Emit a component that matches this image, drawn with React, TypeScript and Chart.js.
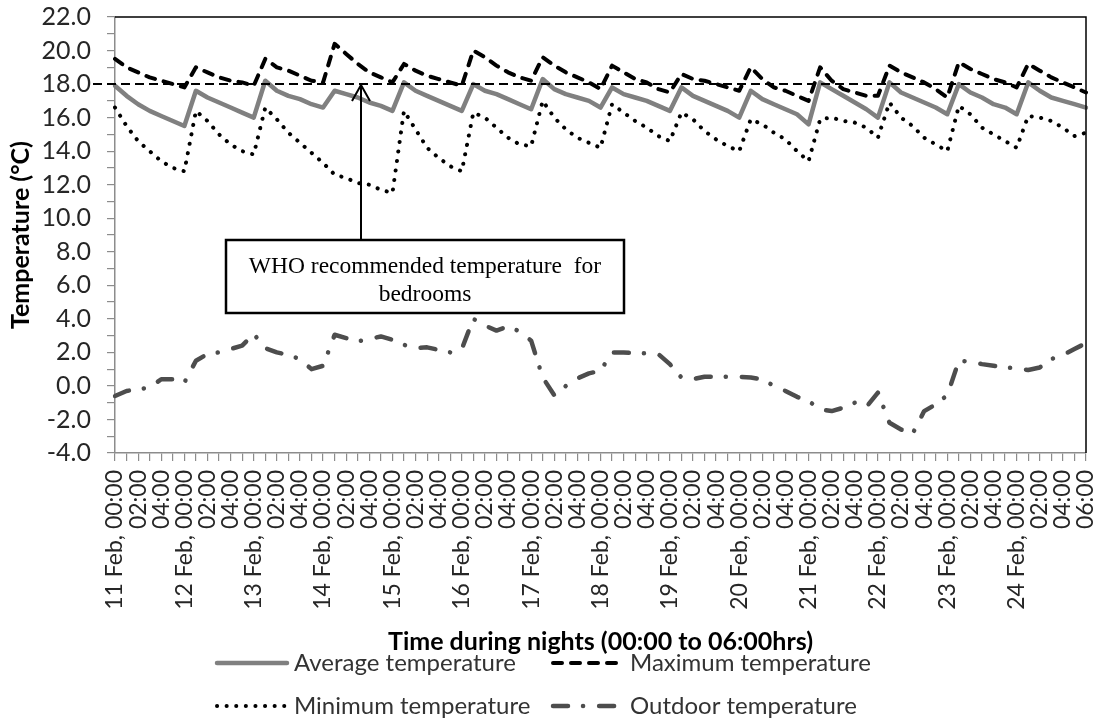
import React, { useEffect, useRef } from 'react';
import { Chart, registerables } from 'chart.js';

Chart.register(...registerables);

// ---------- data ----------
const NIGHTS = ['11 Feb', '12 Feb', '13 Feb', '14 Feb', '15 Feb', '16 Feb', '17 Feb', '18 Feb', '19 Feb', '20 Feb', '21 Feb', '22 Feb', '23 Feb', '24 Feb'];
const HOURS = ['00:00', '01:00', '02:00', '03:00', '04:00', '05:00'];
const END_LABEL = '06:00';

const AVERAGE = [
  17.9, 17.3, 16.8, 16.4, 16.1, 15.8,
  15.5, 17.6, 17.2, 16.9, 16.6, 16.3,
  16.0, 18.2, 17.6, 17.3, 17.1, 16.8,
  16.6, 17.6, 17.4, 17.2, 16.9, 16.7,
  16.4, 18.1, 17.6, 17.3, 17.0, 16.7,
  16.4, 18.0, 17.6, 17.4, 17.1, 16.8,
  16.5, 18.3, 17.7, 17.4, 17.2, 17.0,
  16.6, 17.8, 17.4, 17.2, 17.0, 16.7,
  16.4, 17.8, 17.3, 17.0, 16.7, 16.4,
  16.0, 17.6, 17.1, 16.8, 16.5, 16.2,
  15.6, 18.1, 17.7, 17.3, 16.9, 16.5,
  16.0, 18.1, 17.5, 17.2, 16.9, 16.6,
  16.2, 18.0, 17.5, 17.2, 16.8, 16.6,
  16.2, 18.1, 17.6, 17.2, 17.0, 16.8,
  16.6,
];

const MAXIMUM = [
  19.5, 19.0, 18.7, 18.4, 18.2, 18.0,
  17.8, 19.0, 18.7, 18.4, 18.2, 18.1,
  17.9, 19.5, 19.0, 18.8, 18.5, 18.2,
  18.1, 20.4, 19.8, 19.2, 18.7, 18.4,
  18.1, 19.2, 18.8, 18.5, 18.3, 18.1,
  17.9, 20.0, 19.6, 19.1, 18.7, 18.4,
  18.2, 19.6, 19.1, 18.7, 18.4, 18.1,
  17.7, 19.1, 18.7, 18.3, 18.1, 17.7,
  17.5, 18.6, 18.3, 18.2, 18.0, 17.8,
  17.6, 19.0, 18.3, 17.8, 17.6, 17.3,
  17.0, 19.0, 18.2, 17.7, 17.5, 17.3,
  17.3, 19.1, 18.7, 18.4, 18.1, 17.7,
  17.2, 19.3, 18.9, 18.6, 18.3, 18.1,
  17.8, 19.2, 18.8, 18.4, 18.1, 17.8,
  17.5,
];

const MINIMUM = [
  16.6, 15.5, 14.6, 14.0, 13.4, 13.0,
  12.8, 16.4, 15.8, 15.0, 14.4, 14.0,
  13.8, 16.6, 15.9, 15.1, 14.5, 13.9,
  13.3, 12.6, 12.4, 12.1, 12.0, 11.7,
  11.5, 16.4, 15.3, 14.2, 13.6, 13.1,
  12.8, 16.3, 16.0, 15.4, 14.8, 14.4,
  14.3, 17.0, 16.0, 15.3, 14.8, 14.5,
  14.2, 16.8, 16.3, 15.8, 15.4, 14.9,
  14.6, 16.3, 15.9, 15.2, 14.7, 14.3,
  14.0, 15.9, 15.6, 15.1, 14.7, 14.0,
  13.4, 15.9, 16.0, 15.8, 15.7, 15.4,
  14.8, 16.9, 16.0, 15.5, 14.8, 14.4,
  14.0, 16.7, 16.2, 15.4, 15.0, 14.6,
  14.2, 16.1, 16.0, 15.8, 15.4, 14.9,
  15.1,
];

const OUTDOOR = [
  -0.6, -0.3, -0.2, -0.1, 0.4, 0.4,
  0.2, 1.5, 1.9, 2.0, 2.2, 2.4,
  3.1, 2.25, 2.0, 1.85, 1.6, 1.0,
  1.2, 3.05, 2.85, 2.65, 2.8, 2.95,
  2.75, 2.45, 2.25, 2.3, 2.15, 2.0,
  2.2, 4.0, 3.6, 3.3, 3.55, 3.25,
  2.7, 0.5, -0.55, 0.0, 0.45, 0.75,
  0.9, 2.0, 2.0, 1.95, 1.95, 1.9,
  1.3, 0.5, 0.4, 0.55, 0.55, 0.55,
  0.55, 0.5, 0.4, 0.0, -0.3, -0.65,
  -0.9, -1.4, -1.5, -1.3, -1.0, -1.25,
  -0.4, -2.2, -2.6, -2.85, -1.5, -1.1,
  -0.55, 1.5, 1.45, 1.3, 1.2, 1.1,
  1.05, 0.95, 1.1, 1.6, 1.85, 2.2,
  2.55,
];

const WHO_LEVEL = 18;
const WHO_TEXT = ['WHO recommended temperature  for', 'bedrooms'];
const SERIES_NAMES = ['Average temperature', 'Maximum temperature', 'Minimum temperature', 'Outdoor temperature'];
const Y_MIN = -4;
const Y_MAX = 22;

const CATEGORIES: string[] = [
  ...NIGHTS.flatMap((n) => HOURS.map((h) => (h === '00:00' ? `${n}, ${h}` : h))),
  END_LABEL,
];

// ---------- style ----------
const FONT = 'Lato, "Open Sans", sans-serif';
const TEXT_COLOR = '#262626';
const AXIS_GRAY = '#8c8c8c';

const frameAndAnnotation = {
  id: 'frameAndAnnotation',
  afterDatasetsDraw(chart: any) {
    const { ctx, chartArea, scales } = chart;
    const { left, top, right, bottom } = chartArea;
    ctx.save();
    // top & right border of plot area
    ctx.strokeStyle = '#000';
    ctx.lineWidth = 1.5;
    ctx.beginPath();
    ctx.moveTo(left, top);
    ctx.lineTo(right, top);
    ctx.lineTo(right, bottom);
    ctx.stroke();

    // WHO recommended line
    const yWho = scales.y.getPixelForValue(WHO_LEVEL);
    ctx.lineWidth = 2;
    ctx.setLineDash([9, 5]);
    ctx.beginPath();
    ctx.moveTo(left - 22, yWho);
    ctx.lineTo(right, yWho);
    ctx.stroke();
    ctx.setLineDash([]);

    // annotation box
    const bx = left + 111;
    const by = top + 223;
    const bw = 398;
    const bh = 73;
    const ax = left + 246;

    // arrow
    ctx.lineWidth = 2;
    ctx.beginPath();
    ctx.moveTo(ax, by);
    ctx.lineTo(ax, yWho + 1);
    ctx.stroke();
    ctx.beginPath();
    ctx.moveTo(ax - 9, yWho + 17);
    ctx.lineTo(ax, yWho + 1);
    ctx.lineTo(ax + 9, yWho + 17);
    ctx.stroke();

    ctx.fillStyle = '#fff';
    ctx.fillRect(bx, by, bw, bh);
    ctx.strokeStyle = '#000';
    ctx.lineWidth = 2.5;
    ctx.strokeRect(bx, by, bw, bh);

    ctx.fillStyle = '#000';
    ctx.font = '23.5px "Liberation Serif", "Times New Roman", serif';
    ctx.textAlign = 'center';
    ctx.textBaseline = 'alphabetic';
    ctx.fillText(WHO_TEXT[0], bx + bw / 2, by + 33);
    ctx.fillText(WHO_TEXT[1], bx + bw / 2, by + 61);
    ctx.restore();
  },
};

const LEGEND_COL_X = [217, 553];
const LEGEND_ROW_Y = [663, 706];
const SAMPLE_LEN = 70;

const gridLegend = {
  id: 'gridLegend',
  afterDraw(chart: any) {
    const { ctx } = chart;
    chart.data.datasets.forEach((ds: any, i: number) => {
      const x0 = LEGEND_COL_X[i % 2];
      const y = LEGEND_ROW_Y[Math.floor(i / 2)];
      ctx.save();
      ctx.strokeStyle = ds.borderColor;
      ctx.lineWidth = ds.borderWidth;
      ctx.lineCap = ds.borderCapStyle || 'butt';
      ctx.setLineDash(ds.borderDash || []);
      ctx.beginPath();
      ctx.moveTo(x0, y);
      ctx.lineTo(x0 + SAMPLE_LEN, y);
      ctx.stroke();
      ctx.setLineDash([]);
      ctx.fillStyle = '#333';
      ctx.font = `24px ${FONT}`;
      ctx.textAlign = 'left';
      ctx.textBaseline = 'middle';
      ctx.fillText(ds.label, x0 + SAMPLE_LEN + 7, y);
      ctx.restore();
    });
  },
};

export default function App() {
  const canvasRef = useRef<HTMLCanvasElement | null>(null);

  useEffect(() => {
    document.body.style.margin = '0';
    const canvas = canvasRef.current;
    if (!canvas) return;

    const lineBase = { pointRadius: 0, pointHoverRadius: 0, tension: 0, fill: false, borderJoinStyle: 'round' as const };

    const chart = new Chart(canvas, {
      type: 'line',
      data: {
        labels: CATEGORIES,
        datasets: [
          { ...lineBase, label: SERIES_NAMES[0], data: AVERAGE, borderColor: '#808080', borderWidth: 4.5, borderCapStyle: 'round' },
          { ...lineBase, label: SERIES_NAMES[1], data: MAXIMUM, borderColor: '#000000', borderWidth: 4, borderDash: [9, 9], borderCapStyle: 'round' },
          { ...lineBase, label: SERIES_NAMES[2], data: MINIMUM, borderColor: '#000000', borderWidth: 4, borderDash: [0.1, 9.5], borderCapStyle: 'round' },
          { ...lineBase, label: SERIES_NAMES[3], data: OUTDOOR, borderColor: '#4d4d4d', borderWidth: 4.5, borderDash: [15, 15, 0.1, 16], borderCapStyle: 'round' },
        ],
      },
      options: {
        responsive: false,
        animation: false,
        devicePixelRatio: 1,
        layout: { padding: { top: 17, right: 20, bottom: 70, left: 0 } },
        plugins: {
          legend: { display: false },
          tooltip: { enabled: false },
        },
        scales: {
          x: {
            type: 'category',
            offset: false,
            afterFit: (scale: any) => {
              scale.height = 204;
              scale.paddingLeft = 0;
              scale.paddingRight = 0;
            },
            grid: { drawOnChartArea: false, drawTicks: true, tickLength: 8, color: AXIS_GRAY, lineWidth: 1.2 },
            border: { display: true, color: AXIS_GRAY, width: 1.5 },
            ticks: {
              autoSkip: false,
              maxRotation: 90,
              minRotation: 90,
              padding: 9,
              color: TEXT_COLOR,
              font: { family: FONT, size: 23 },
              callback: (_v: any, index: number) => (index % 2 === 0 ? CATEGORIES[index] : ''),
            },
            title: {
              display: true,
              text: 'Time during nights (00:00 to 06:00hrs)',
              color: '#000',
              font: { family: FONT, size: 25, weight: 'bold', lineHeight: 1.2 },
              padding: { top: 0, bottom: 0 },
            },
          },
          y: {
            min: Y_MIN,
            max: Y_MAX,
            afterFit: (scale: any) => {
              scale.width = 115;
              scale.paddingTop = 0;
              scale.paddingBottom = 0;
            },
            grid: { drawOnChartArea: false, drawTicks: true, tickLength: 8, color: AXIS_GRAY, lineWidth: 1.2 },
            border: { display: true, color: AXIS_GRAY, width: 1.5 },
            ticks: {
              stepSize: 1,
              autoSkip: false,
              padding: 16,
              color: TEXT_COLOR,
              font: { family: FONT, size: 25 },
              callback: (v: any) => (Math.round(Number(v)) % 2 === 0 ? Number(v).toFixed(1) : ''),
            },
            title: {
              display: true,
              text: 'Temperature (°C)',
              color: '#000',
              font: { family: FONT, size: 25, weight: 'bold', lineHeight: 1.2 },
              padding: { top: 6, bottom: 0 },
            },
          },
        },
      },
      plugins: [frameAndAnnotation, gridLegend],
    });

    if ((document as any).fonts && (document as any).fonts.ready) {
      (document as any).fonts.ready.then(() => chart.update('none'));
    }

    return () => chart.destroy();
  }, []);

  return (
    <div style={{ width: 1106, height: 727, background: '#fff' }}>
      <canvas ref={canvasRef} width={1106} height={727} style={{ width: 1106, height: 727, display: 'block' }} />
    </div>
  );
}
